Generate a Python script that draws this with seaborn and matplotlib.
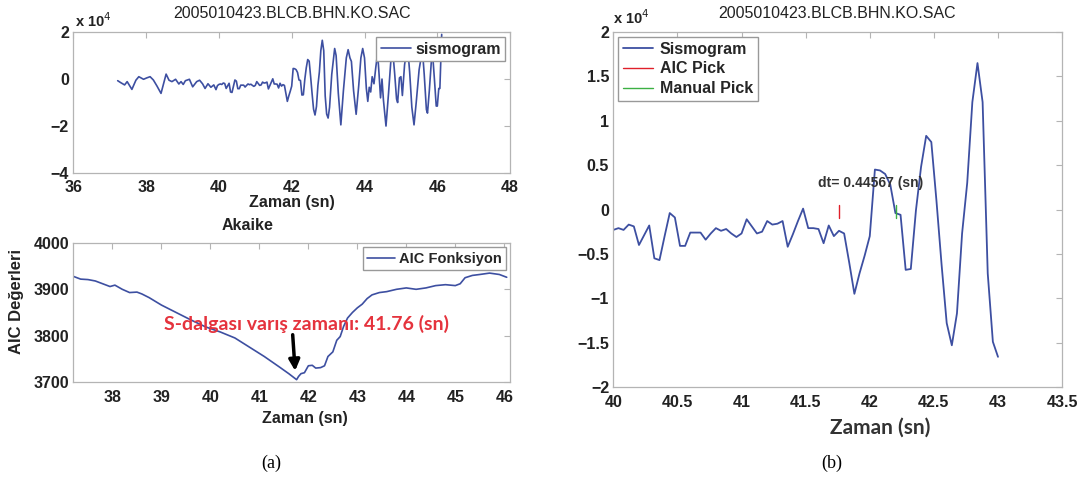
import numpy as np
import pandas as pd
import matplotlib
matplotlib.use('Agg')
import matplotlib.pyplot as plt
import seaborn as sns

# sismogram (x1e4), 25 Hz, 40.00 - 43.00 sn
T0 = 40.0
DT = 0.04
sis_b = [-0.23, -0.21, -0.23, -0.17, -0.19, -0.40, -0.29, -0.18, -0.55, -0.57,
         -0.30, -0.04, -0.09, -0.41, -0.41, -0.26, -0.26, -0.26, -0.34, -0.27,
         -0.21, -0.24, -0.22, -0.27, -0.31, -0.27, -0.11, -0.19, -0.27, -0.25,
         -0.13, -0.17, -0.16, -0.13, -0.42, -0.28, -0.13, 0.01, -0.21, -0.21,
         -0.22, -0.38, -0.18, -0.30, -0.24, -0.27, -0.60, -0.95, -0.72, -0.52,
         -0.30, 0.45, 0.44, 0.40, 0.28, -0.04, -0.06, -0.68, -0.67, -0.01,
         0.48, 0.83, 0.76, 0.10, -0.62, -1.28, -1.53, -1.17, -0.27, 0.30,
         1.21, 1.65, 1.21, -0.72, -1.49, -1.66]
t_b = T0 + DT * np.arange(len(sis_b))

# ust panel icin 40 sn oncesi ve 43 sn sonrasi (tepe/cukur noktalari)
t_once = [37.22, 37.30, 37.41, 37.48, 37.61, 37.72, 37.80, 37.93, 38.02, 38.11,
          38.20, 38.30, 38.41, 38.55, 38.63, 38.71, 38.81, 38.90, 38.96, 39.02,
          39.08, 39.19, 39.28, 39.39, 39.47, 39.55, 39.62, 39.70, 39.78, 39.86,
          39.92, 39.96]
v_once = [-0.07, -0.15, -0.25, -0.11, -0.44, -0.05, 0.10, -0.01, 0.05, 0.10,
          -0.04, -0.30, -0.61, 0.21, -0.05, -0.11, -0.01, -0.21, -0.11, -0.23,
          -0.07, -0.01, -0.33, -0.11, -0.05, -0.20, -0.40, -0.20, -0.35, -0.25,
          -0.45, -0.28]
t_sonra = [43.04, 43.10, 43.18, 43.22, 43.28, 43.35, 43.42, 43.50, 43.55, 43.60,
           43.64, 43.70, 43.77, 43.84, 43.90, 43.95, 44.00, 44.05, 44.09, 44.13,
           44.17, 44.21, 44.26, 44.31, 44.36, 44.40, 44.44, 44.48, 44.52, 44.59,
           44.66, 44.72, 44.77, 44.83, 44.88, 44.91, 44.96, 45.00, 45.04, 45.10,
           45.18, 45.24, 45.30, 45.36, 45.42, 45.50, 45.59, 45.64, 45.70, 45.73,
           45.78, 45.86, 45.92, 45.97, 46.00, 46.04, 46.07, 46.12]
v_sonra = [-1.20, 0.20, 1.30, 1.00, -0.60, -1.95, -0.50, 0.90, 1.25, 0.90,
           0.75, -0.50, -1.50, -0.30, 0.90, 1.30, 0.90, -0.40, -0.95, -0.35,
           -0.55, 0.10, -0.20, 0.50, 1.10, 0.20, -0.80, 0.00, -0.90, -2.00,
           -0.60, 0.70, 1.30, 0.20, -0.85, -1.00, 0.05, 0.10, -0.70, 0.60,
           1.45, 0.30, -1.20, -1.95, -1.00, 0.40, 1.25, 0.20, -1.30, -1.45,
           -0.50, 1.30, 0.00, -1.15, -1.15, -0.40, -0.40, 1.90]

# AIC fonksiyonu
aic_t = [37.20, 37.35, 37.50, 37.65, 37.80, 37.95, 38.05, 38.20, 38.35, 38.50,
         38.60, 38.75, 39.00, 39.30, 39.60, 39.90, 40.20, 40.50, 40.80, 41.10,
         41.40, 41.60, 41.76, 41.80, 41.85, 41.92, 42.00, 42.08, 42.15, 42.25,
         42.33, 42.40, 42.50, 42.58, 42.65, 42.72, 42.80, 42.90, 43.00, 43.10,
         43.20, 43.30, 43.45, 43.60, 43.80, 44.00, 44.20, 44.40, 44.60, 44.80,
         45.00, 45.10, 45.20, 45.35, 45.50, 45.70, 45.90, 46.05]
aic_v = [3928, 3922, 3921, 3918, 3912, 3906, 3909, 3900, 3893, 3894,
         3890, 3882, 3866, 3850, 3834, 3819, 3808, 3795, 3775, 3755,
         3733, 3718, 3705, 3712, 3718, 3720, 3735, 3736, 3730, 3731,
         3735, 3755, 3765, 3790, 3798, 3820, 3838, 3850, 3860, 3868,
         3880, 3888, 3893, 3895, 3900, 3903, 3900, 3903, 3908, 3910,
         3908, 3912, 3925, 3930, 3932, 3935, 3932, 3926]

aic_pick = 41.76
manual_pick = 42.20567

top_t = np.concatenate([t_once, t_b, t_sonra])
top_v = np.concatenate([v_once, sis_b, v_sonra])

BLUE = '#3d4fa1'
RED = '#e0202a'
GREEN = '#3cb043'
GRID = '#b4b4b4'
TXT = '#222222'
FS = 11.5

sns.set_theme(style='white')
plt.rcParams['font.family'] = ['Liberation Sans', 'DejaVu Sans']
plt.rcParams['axes.unicode_minus'] = True


def matlab_axes(ax, xt, yt, xl, yl, xpad=5):
    for s in ax.spines.values():
        s.set_color(GRID)
        s.set_linewidth(0.9)
        s.set_visible(True)
    ax.set_xlim(*xl)
    ax.set_ylim(*yl)
    ax.set_xticks(xt)
    ax.set_yticks(yt)
    ax.set_xticklabels([f'{v:g}' for v in xt], fontweight='bold', fontsize=FS, color=TXT)
    ax.set_yticklabels([f'{v:g}'.replace('-', '\u2212') for v in yt],
                       fontweight='bold', fontsize=FS, color=TXT)
    ax.tick_params(direction='in', top=True, right=True, length=4, width=0.8,
                   color=GRID)
    ax.tick_params(axis='x', pad=xpad)
    ax.tick_params(axis='y', pad=3)
    ax.set_xlabel('')
    ax.set_ylabel('')


def leg(ax, loc, size):
    ax.legend(loc=loc, prop={'weight': 'bold', 'size': size}, frameon=True,
              fancybox=False, edgecolor='#999999', framealpha=1, borderpad=0.3,
              handlelength=1.9, handletextpad=0.25, borderaxespad=0.3, labelspacing=0.3)


fig = plt.figure(figsize=(10.84, 4.82), dpi=100)
ax1 = fig.add_axes([0.0676, 0.641, 0.403, 0.2925])
ax2 = fig.add_axes([0.0676, 0.2075, 0.403, 0.2884])
ax3 = fig.add_axes([0.5658, 0.1971, 0.414, 0.7365])

# (a) ust: sismogram
sns.lineplot(x=top_t, y=top_v, ax=ax1, color=BLUE, lw=1.2, label='sismogram')
matlab_axes(ax1, [36, 38, 40, 42, 44, 46, 48], [-4, -2, 0, 2], (36, 48), (-4, 2), xpad=5)
leg(ax1, 'upper right', FS)
ax1.text(0.005, 1.015, r'x 10$^4$', transform=ax1.transAxes, fontsize=10.5,
         color=TXT, fontweight='bold', va='bottom')
fig.text(292 / 1084, 1 - 13 / 482, '2005010423.BLCB.BHN.KO.SAC', ha='center',
         va='center', fontsize=FS, color=TXT)
fig.text(292 / 1084, 1 - 203 / 482, 'Zaman (sn)', ha='center', va='center',
         fontsize=FS, fontweight='bold', color=TXT)

# (a) alt: AIC
sns.lineplot(x=aic_t, y=aic_v, ax=ax2, color=BLUE, lw=1.2, label='AIC Fonksiyon')
matlab_axes(ax2, [38, 39, 40, 41, 42, 43, 44, 45, 46], [3700, 3800, 3900, 4000],
            (37.2, 46.12), (3700, 4000), xpad=6)
leg(ax2, 'upper right', 10.5)
ax2.annotate('', xy=(aic_pick - 0.03, 3724), xytext=(aic_pick - 0.08, 3802),
             arrowprops=dict(arrowstyle='-|>', color='black', lw=2.5,
                             mutation_scale=16, shrinkA=0, shrinkB=0))
ax2.text(41.97, 3826, f'S-dalgası varış zamanı: {aic_pick:.2f} (sn)', ha='center',
         va='center', color='#e5333d', fontsize=14, fontweight='bold',
         family=['Lato', 'DejaVu Sans'])
fig.text(248 / 1084, 1 - 225 / 482, 'Akaike', ha='center', va='center',
         fontsize=FS, fontweight='bold', color=TXT)
fig.text(305 / 1084, 1 - 418 / 482, 'Zaman (sn)', ha='center', va='center',
         fontsize=FS, fontweight='bold', color=TXT)
fig.text(17 / 1084, 1 - 302 / 482, 'AIC Değerleri', ha='center', va='center',
         rotation=90, fontsize=12, fontweight='bold', color=TXT)

# (b) yakinlastirilmis
sns.lineplot(x=t_b, y=sis_b, ax=ax3, color=BLUE, lw=1.3, label='Sismogram')
PICK_Y, PICK_H = -0.025, 0.075
sns.lineplot(x=[aic_pick, aic_pick], y=[PICK_Y - PICK_H, PICK_Y + PICK_H], ax=ax3,
             color=RED, lw=1.0, label='AIC Pick', estimator=None)
sns.lineplot(x=[manual_pick, manual_pick], y=[PICK_Y - PICK_H, PICK_Y + PICK_H], ax=ax3,
             color=GREEN, lw=1.0, label='Manual Pick', estimator=None)
yt3 = [-2, -1.5, -1, -0.5, 0, 0.5, 1, 1.5, 2]
matlab_axes(ax3, [40, 40.5, 41, 41.5, 42, 42.5, 43, 43.5], yt3, (40, 43.5), (-2, 2), xpad=6)
ax3.legend(loc='upper left', prop={'weight': 'bold', 'size': FS}, frameon=True,
           fancybox=False, edgecolor='#999999', framealpha=1, borderpad=0.3,
           handlelength=1.9, handletextpad=0.4, borderaxespad=0.3, labelspacing=0.3)
ax3.text(0.0, 1.015, r'x 10$^4$', transform=ax3.transAxes, fontsize=10.5,
         color=TXT, fontweight='bold', va='bottom')
ax3.text(41.595, 0.30, f'dt= {manual_pick - aic_pick:.5f} (sn)', ha='left',
         va='center', fontsize=10, fontweight='bold', color='#333333')
fig.text(837 / 1084, 1 - 14 / 482, '2005010423.BLCB.BHN.KO.SAC', ha='center',
         va='center', fontsize=FS, color=TXT)
fig.text(880 / 1084, 1 - 428 / 482, 'Zaman (sn)', ha='center', va='center',
         fontsize=15, fontweight='bold', color='#333333', family=['Lato', 'DejaVu Sans'])

fig.text(271 / 1084, 1 - 463 / 482, '(a)', ha='center', va='center', fontsize=13,
         family=['Liberation Serif', 'DejaVu Serif'], color='black')
fig.text(832 / 1084, 1 - 463 / 482, '(b)', ha='center', va='center', fontsize=13,
         family=['Liberation Serif', 'DejaVu Serif'], color='black')

fig.savefig('out.png', dpi=100)
